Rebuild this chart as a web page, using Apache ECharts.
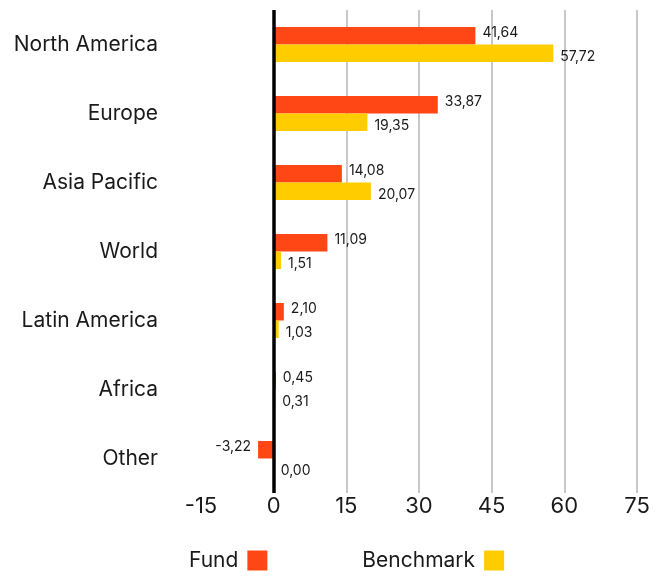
<!DOCTYPE html>
<html>
<head>
<meta charset="utf-8">
<script src="https://cdn.jsdelivr.net/npm/echarts@6/dist/echarts.min.js"></script>
<style>html,body{margin:0;padding:0;background:#fff}#c{width:665px;height:576px}</style>
</head>
<body>
<div id="c"></div>
<script>
const categories = ["North America", "Europe", "Asia Pacific", "World", "Latin America", "Africa", "Other"];
const fundValues = [41.64, 33.87, 14.08, 11.09, 2.10, 0.45, -3.22];
const benchmarkValues = [57.72, 19.35, 20.07, 1.51, 1.03, 0.31, 0.00];
const xTicks = [-15, 0, 15, 30, 45, 60, 75];

const FONT = "Inter";
const fmt = v => v.toFixed(2).replace('.', ',');

function mkData(vals, offY) {
  return vals.map(v => ({
    value: v,
    label: { position: v < 0 ? 'left' : 'right', offset: [0, offY] }
  }));
}

const chart = echarts.init(document.getElementById('c'));
chart.setOption({
  animation: false,
  textStyle: { fontFamily: FONT },
  grid: { left: 201, right: 28, top: 10, bottom: 83, containLabel: false },
  legend: {
    left: 184, top: 545,
    itemWidth: 20, itemHeight: 20, itemGap: 95,
    align: 'right',
    icon: 'rect',
    textStyle: { fontFamily: FONT, fontSize: 21, color: '#1a1a1a', padding: [4, 4, 0, 0] },
    data: ['Fund', 'Benchmark']
  },
  xAxis: {
    type: 'value',
    min: xTicks[0], max: xTicks[xTicks.length - 1], interval: 15,
    axisLine: { show: false },
    axisTick: { show: false },
    axisLabel: { fontFamily: FONT, fontSize: 22, color: '#1a1a1a', margin: 2 },
    splitLine: { show: true, showMinLine: false, lineStyle: { color: '#c8c8c8', width: 2 } }
  },
  yAxis: {
    type: 'category',
    inverse: true,
    data: categories,
    axisLine: { show: false },
    axisTick: { show: false },
    axisLabel: { fontFamily: FONT, fontSize: 21, color: '#1a1a1a', margin: 43, padding: [3, 0, 0, 0] }
  },
  series: [
    {
      name: 'Fund', type: 'bar',
      data: mkData(fundValues, -3),
      barWidth: 17.5, barGap: '0%',
      itemStyle: { color: '#FF4715' },
      label: { show: true, distance: 7, fontFamily: FONT, fontSize: 14, color: '#1a1a1a', formatter: p => fmt(p.value) },
      markLine: {
        silent: true, symbol: 'none',
        label: { show: false },
        lineStyle: { color: '#000', width: 3.5, type: 'solid' },
        data: [{ xAxis: 0 }]
      }
    },
    {
      name: 'Benchmark', type: 'bar',
      data: mkData(benchmarkValues, 4),
      barWidth: 17.5,
      itemStyle: { color: '#FFCC00' },
      label: { show: true, distance: 7, fontFamily: FONT, fontSize: 14, color: '#1a1a1a', formatter: p => fmt(p.value) }
    }
  ]
});
</script>
</body>
</html>
